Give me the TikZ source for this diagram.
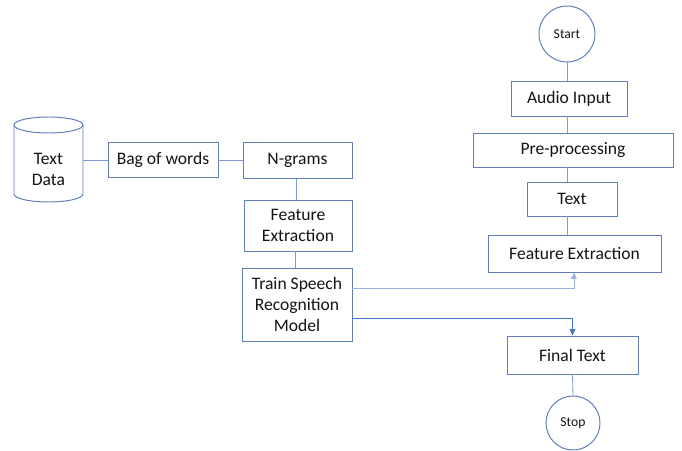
\documentclass[tikz,border=0pt]{standalone}
\usepackage{fontspec}
\setmainfont{Carlito}
\usepackage{tikz}
\usetikzlibrary{calc}
\usetikzlibrary{arrows.meta}
\usepackage{xcolor}

\definecolor{boxblue}{RGB}{96,126,186}
\definecolor{linkblue}{RGB}{68,114,196}
\definecolor{paleblue}{RGB}{150,178,224}
\definecolor{inkgray}{RGB}{20,20,20}

\begin{document}
\begin{tikzpicture}[scale=1]
        % ================= styles =================
        \tikzset{
            % rectangular process box
            proc/.style={rectangle, draw=boxblue, line width=0.7pt, fill=white, text=inkgray,
                         align=center, inner sep=1pt, font=\fontsize{12.5}{15}\selectfont},
            % start / stop terminal
            term/.style={circle, draw=boxblue, line width=0.7pt, fill=white, text=inkgray,
                         minimum size=1.4cm, inner sep=0pt, font=\fontsize{9.7}{11}\selectfont},
            % plain connecting line
            link/.style={linkblue!70, line width=0.6pt},
            % connecting line with arrow tip
            flow/.style={line width=0.6pt, -{Triangle[length=1.6mm,width=1.4mm]}}
        }

        \useasboundingbox (0,0) rectangle (17.05,11.25);

        % ================= 1. left column: training =================

        % --- text data store (cylinder drawn by hand) ---
        \draw[boxblue, line width=0.7pt] (0.35,8.125) -- (0.35,6.4)
            arc[start angle=180, end angle=360, x radius=0.8625, y radius=0.2] -- (2.075,8.125);
        \draw[boxblue, line width=0.7pt] (1.2125,8.125) ellipse [x radius=0.8625, y radius=0.2];
        \node[text=inkgray, align=center, font=\fontsize{12.5}{15}\selectfont,
              minimum width=1.725cm, inner sep=0pt] (data) at (1.2125,7.0125) {Text\\Data};

        \node[proc, minimum width=2.75cm, minimum height=0.875cm] (bow) at (4.075,7.24) {Bag of words};
        \node[proc, minimum width=2.725cm, minimum height=0.9cm] (ngram) at (7.4375,7.24) {N-grams};
        \node[proc, minimum width=2.7cm, minimum height=1.275cm] (feat1) at (7.45,5.6125) {Feature\\Extraction};
        \node[proc, minimum width=2.75cm, minimum height=1.825cm] (train) at (7.425,3.6375) {Train Speech\\Recognition\\Model};

        % ================= 2. right column: recognition =================
        \node[term] (start) at (14.175,10.4) {Start};
        \node[proc, minimum width=2.9cm, minimum height=0.875cm] (audio) at (14.225,8.7875) {Audio Input};
        \node[proc, minimum width=5cm, minimum height=0.85cm] (pre) at (14.325,7.5) {Pre-processing};
        \node[proc, minimum width=2.25cm, minimum height=0.85cm] (txt) at (14.3,6.275) {Text};
        \node[proc, minimum width=4.325cm, minimum height=0.925cm] (feat2) at (14.3625,4.9125) {Feature Extraction};
        \node[proc, minimum width=3.275cm, minimum height=0.95cm] (final) at (14.3125,2.375) {Final Text};
        \node[term, minimum size=1.35cm] (stop) at (14.325,0.675) {Stop};

        % ================= 3. connectors =================

        % left chain
        \draw[link] (bow.west) -- (bow.west -| data.east);
        \draw[link] (bow.east) -- (ngram.west);
        \draw[link] (ngram.south -| 7.4,0) -- (feat1.north -| 7.4,0);
        \draw[link] (feat1.south -| 7.375,0) -- (train.north -| 7.375,0);

        % right chain (all on the axis of the start circle)
        \draw[link] (start.south) -- (start.south |- audio.north);
        \draw[link] (start.south |- audio.south) -- (start.south |- pre.north);
        \draw[link] (start.south |- pre.south) -- (start.south |- txt.north);
        \draw[link] (start.south |- txt.south) -- (start.south |- feat2.north);
        \draw[link] (final.south) -- (stop.north);

        % model feeds both feature extraction and final text
        \draw[flow, paleblue] ([yshift=0.39cm]train.east) -| ([xshift=-0.0125cm]feat2.south);
        \draw[flow, linkblue] ([yshift=-0.36cm]train.east) -| (final.north);

    \end{tikzpicture}
\end{document}
